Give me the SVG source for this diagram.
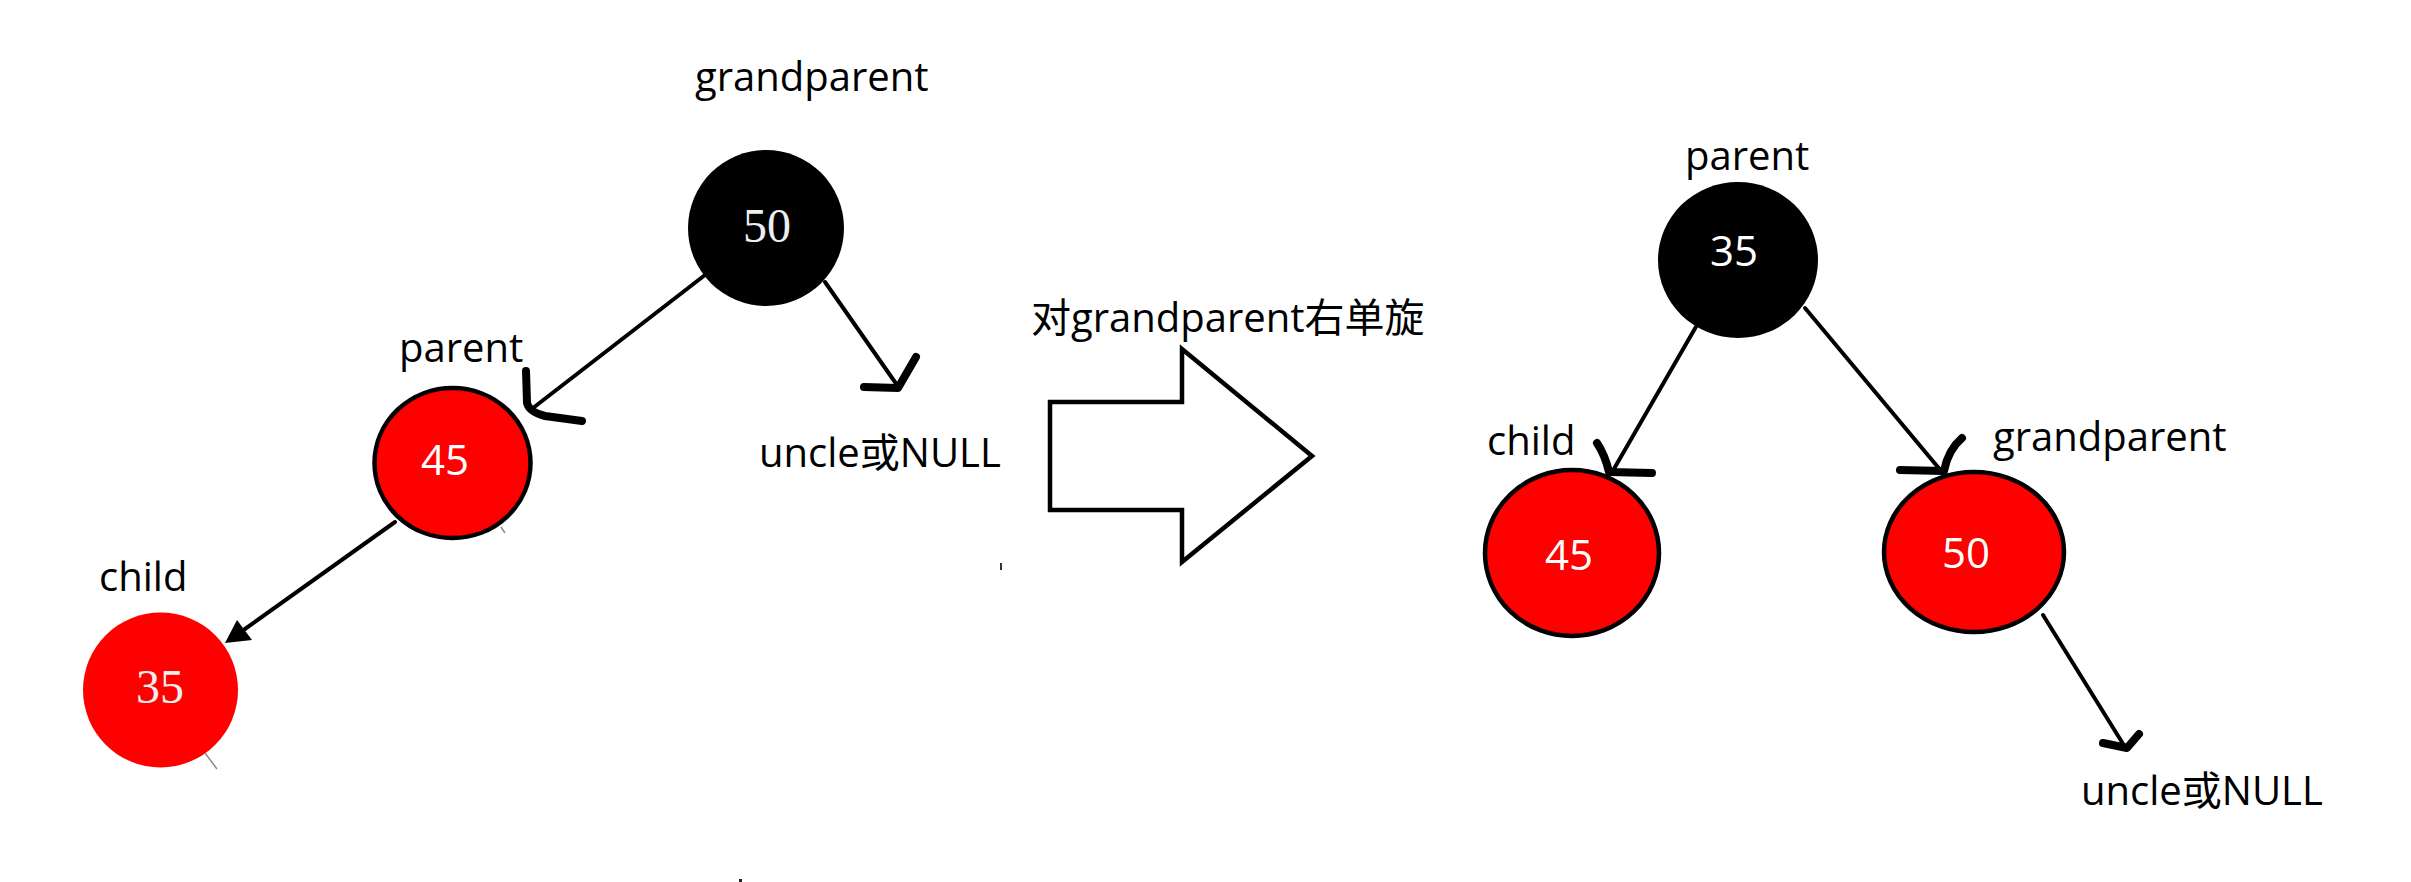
<svg xmlns="http://www.w3.org/2000/svg" width="2411" height="882" viewBox="0 0 2411 882">
<style>
  .lbl { font-family: "Open Sans", "Noto Sans CJK SC", sans-serif; font-size: 40px; fill: #000; }
  .num { font-family: "Open Sans", sans-serif; font-size: 42px; fill: #fff; text-anchor: middle; }
  .numserif { font-family: "Liberation Serif", serif; font-size: 48px; fill: #eeeeee; text-anchor: middle; }
  .red { fill: #ff0000; }
  .redo { fill: #ff0000; stroke: #000; stroke-width: 4.5; }
  .blk { fill: #000; }
  .line { stroke: #000; stroke-width: 4; fill: none; stroke-linecap: round; }
  .head { stroke: #000; stroke-width: 8; fill: none; stroke-linecap: round; stroke-linejoin: round; }
  .art { stroke: #8a8a8a; stroke-width: 1.5; fill: none; }
</style>
<rect width="2411" height="882" fill="#fff"/>

<!-- Left tree -->
<g id="left-grandparent">
  <text class="lbl" x="695" y="91">grandparent</text>
  <circle class="blk" cx="766" cy="228" r="78"/>
  <text class="numserif" x="767" y="242">50</text>
</g>
<g id="left-parent">
  <text class="lbl" x="399" y="362">parent</text>
  <ellipse class="redo" cx="452.5" cy="463" rx="78" ry="75"/>
  <text class="num" x="445" y="475">45</text>
</g>
<g id="left-child">
  <text class="lbl" x="99" y="591">child</text>
  <circle class="red" cx="160.5" cy="690" r="77.5"/>
  <text class="numserif" x="160" y="703">35</text>
</g>
<g id="left-uncle">
  <text class="lbl" x="759" y="467">uncle或NULL</text>
</g>

<!-- Transformation arrow -->
<g id="rotate-arrow">
  <text class="lbl" x="1031" y="332">对grandparent右单旋</text>
  <polygon points="1050,402 1182,402 1182,349 1312,456 1182,562 1182,510 1050,510" fill="#fff" stroke="#000" stroke-width="4.5" stroke-linejoin="miter"/>
</g>

<!-- Right tree -->
<g id="right-parent">
  <text class="lbl" x="1685" y="170">parent</text>
  <ellipse class="blk" cx="1738" cy="260" rx="80" ry="78"/>
  <text class="num" x="1734" y="266">35</text>
</g>
<g id="right-child">
  <text class="lbl" x="1487" y="455">child</text>
  <ellipse class="redo" cx="1572" cy="553" rx="87" ry="83"/>
  <text class="num" x="1569" y="570">45</text>
</g>
<g id="right-grandparent">
  <text class="lbl" x="1993" y="451">grandparent</text>
  <ellipse class="redo" cx="1974" cy="552" rx="90" ry="80"/>
  <text class="num" x="1966" y="568">50</text>
</g>
<g id="right-uncle">
  <text class="lbl" x="2081" y="805">uncle或NULL</text>
</g>

<g id="connectors">
  <!-- left: 50 -> 45 -->
  <line class="line" x1="705" y1="275" x2="533" y2="408"/>
  <path class="head" d="M526,371 L527,403 Q529,412 545,416 L582,421"/>
  <!-- left: 50 -> uncle -->
  <line class="line" x1="825" y1="282" x2="897" y2="385"/>
  <path class="head" d="M864,387 L898,388 L916,357" stroke-width="7"/>
  <!-- left: 45 -> 35 -->
  <line class="line" x1="395" y1="522" x2="245" y2="629" stroke-width="3.5"/>
  <polygon points="225,643 237,620 252,640" fill="#000"/>
  <!-- right: 35 -> 45 -->
  <line class="line" x1="1697" y1="325" x2="1611" y2="474" stroke-width="4.5"/>
  <path class="head" d="M1597,443 Q1605,455 1609,472 L1652,473"/>
  <!-- right: 35 -> 50 -->
  <line class="line" x1="1805" y1="308" x2="1942" y2="472" stroke-width="4.5"/>
  <path class="head" d="M1962,438 Q1948,450 1944,471 L1900,470"/>
  <!-- right: 50 -> uncle -->
  <line class="line" x1="2043" y1="615" x2="2125" y2="747"/>
  <path class="head" d="M2103,743 L2127,748 L2139,734" stroke-width="7"/>
</g>

<!-- small marks -->
<line class="art" x1="205" y1="753" x2="217" y2="769"/>
<line class="art" x1="501" y1="527" x2="505" y2="533"/>
<line x1="1001" y1="563" x2="1001" y2="570" stroke="#333" stroke-width="2"/>
<rect x="739" y="879" width="3" height="3" fill="#222"/>
</svg>
